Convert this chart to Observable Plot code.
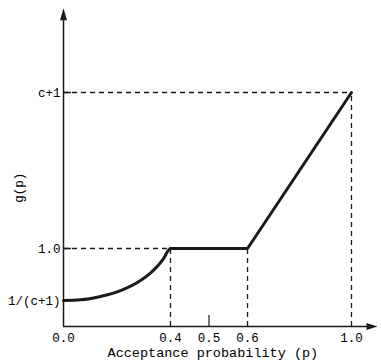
<!DOCTYPE html>
<html>
<head>
<meta charset="utf-8">
<script src="https://cdn.jsdelivr.net/npm/d3@7"></script>
<script src="https://cdn.jsdelivr.net/npm/@observablehq/plot@0.6"></script>
<style>
  html, body { margin: 0; padding: 0; background: #fff; }
</style>
</head>
<body>
<div id="chart"></div>
<script>
// ---- data ----
const curveP = [0, 0.064, 0.138, 0.213, 0.288, 0.336, 0.374, 0.393, 0.4];
const curveG = [0.333, 0.342, 0.385, 0.46, 0.59, 0.72, 0.87, 0.98, 1.0];
const lineP = [0.4, 0.6, 1.0];
const lineG = [1.0, 1.0, 3.0];
const xTicks = [0, 0.4, 0.5, 0.6, 1.0];
const xTickLabels = ["0.0", "0.4", "0.5", "0.6", "1.0"];
const yTicks = [1 / 3, 1, 3];
const yTickLabels = ["1/(c+1)", "1.0", "c+1"];
const xTitle = "Acceptance probability (p)";
const yTitle = "g(p)";
// schematic (non-uniform) x axis: breakpoints and their relative positions
const xBreaks = [0, 0.4, 0.6, 1.0];
const xBreakPos = [0, 0.3715, 0.639, 1.0];
const axisEndX = 1.1;
const axisEndY = 4.08;

const warp = d3.scaleLinear().domain(xBreaks).range(xBreakPos);

const curveData = curveP.map((p, i) => ({p, g: curveG[i]}));
const lineData = lineP.map((p, i) => ({p, g: lineG[i]}));

const arrowUp = {draw(ctx) { ctx.moveTo(0, 0); ctx.lineTo(-3.5, 12); ctx.lineTo(3.5, 12); ctx.closePath(); }};
const arrowRight = {draw(ctx) { ctx.moveTo(0, 0); ctx.lineTo(-11, -3.5); ctx.lineTo(-11, 3.5); ctx.closePath(); }};

const dash = "5,4";
const ink = "#1a1a1a";

const chart = Plot.plot({
  width: 381,
  height: 362,
  marginTop: 8,
  marginBottom: 36,
  marginLeft: 63,
  marginRight: 4,
  style: {fontFamily: "'Liberation Mono', 'DejaVu Sans Mono', monospace", fontSize: "13px", color: "#000", background: "#fff"},
  x: {type: "linear", transform: warp, domain: [0, 1], range: [63, 351], axis: null},
  y: {domain: [0, 3], range: [326, 92], axis: null},
  marks: [
    // dashed guides
    Plot.ruleY([3], {x1: 0, x2: 1.0, stroke: ink, strokeWidth: 1.3, strokeDasharray: dash}),
    Plot.ruleY([1], {x1: 0, x2: 0.4, stroke: ink, strokeWidth: 1.3, strokeDasharray: dash}),
    Plot.ruleX([0.4, 0.6], {y1: 0, y2: 1, stroke: ink, strokeWidth: 1.3, strokeDasharray: dash}),
    Plot.ruleX([1.0], {y1: 0, y2: 3, stroke: ink, strokeWidth: 1.3, strokeDasharray: dash}),
    // small ticks
    Plot.ruleY([1, 3], {x1: 0, x2: 0.03, stroke: ink, strokeWidth: 1.5}),
    Plot.ruleX([0.5], {y1: 0, y2: 0.14, stroke: ink, strokeWidth: 1.2}),
    // axes lines
    Plot.ruleX([0], {y1: 0, y2: axisEndY - 0.1, stroke: ink, strokeWidth: 1.5}),
    Plot.ruleY([0], {x1: 0, x2: axisEndX - 0.03, stroke: ink, strokeWidth: 1.5}),
    Plot.dot([{x: 0, y: axisEndY}], {x: "x", y: "y", symbol: arrowUp, fill: ink, stroke: null}),
    Plot.dot([{x: axisEndX, y: 0}], {x: "x", y: "y", symbol: arrowRight, fill: ink, stroke: null}),
    // g(p)
    Plot.line(curveData, {x: "p", y: "g", curve: "monotone-x", stroke: ink, strokeWidth: 3}),
    Plot.line(lineData, {x: "p", y: "g", stroke: ink, strokeWidth: 3, strokeLinejoin: "miter"}),
    // tick labels
    Plot.axisX(xTicks, {tickSize: 0, tickPadding: 7, tickFormat: d => xTickLabels[xTicks.indexOf(d)], label: null, fontSize: 12.5}),
    Plot.axisY(yTicks, {tickSize: 0, tickPadding: 3, tickFormat: d => yTickLabels[yTicks.indexOf(d)], label: null, fontSize: 12.5}),
    // titles
    Plot.text([xTitle], {x: 0.51, frameAnchor: "bottom", dy: 30, fontSize: 13.5, textAnchor: "middle"}),
    Plot.text([yTitle], {y: 1.78, frameAnchor: "left", dx: -45, rotate: -90, fontSize: 12.5, textAnchor: "middle"})
  ]
});
document.getElementById("chart").appendChild(chart);
</script>
</body>
</html>
